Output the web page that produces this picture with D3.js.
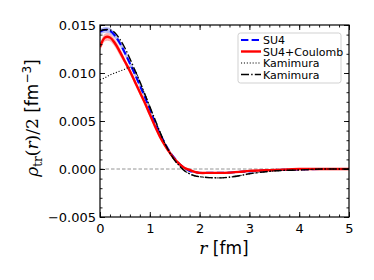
<!DOCTYPE html>
<html>
<head>
<meta charset="utf-8">
<script src="https://cdn.jsdelivr.net/npm/d3@7"></script>
<style>
  body { margin: 0; background: #fff; }
  svg { display: block; }
  text { font-family: "DejaVu Sans", sans-serif; }
</style>
</head>
<body>
<svg id="chart" width="374" height="280"></svg>
<script>
'use strict';
const rGrid = [0, 0.1, 0.2, 0.3, 0.4, 0.5, 0.6, 0.7, 0.8, 0.9, 1.0, 1.1, 1.2, 1.3, 1.4, 1.5, 1.6, 1.7, 1.8, 1.9, 2.0, 2.2, 2.5, 2.8, 3.0, 3.5, 4.0, 4.5, 5.0];

const su4 = [0.0143, 0.0145, 0.0144, 0.0139, 0.0131, 0.0121, 0.0110, 0.0099, 0.0087, 0.0075, 0.0062, 0.0049, 0.0037, 0.0027, 0.0018, 0.0011, 0.0005, 0.0001, -0.0002, -0.0003, -0.0004, -0.0004, -0.0004, -0.0003, -0.00025, -0.0001, -0.00005, 0, 0];
const su4Err = [0.0003, 0.0003, 0.0003, 0.0003, 0.0003, 0.0003, 0.0003, 0.0003, 0.0002, 0.0002, 0.0002, 0.0002, 0.0002, 0.0002, 0.00015, 0.00015, 0.0001, 0.0001, 0.0001, 0.0001, 0.0001, 0.0001, 0.0001, 0.0001, 0.00005, 0.00005, 0.00005, 0.00005, 0.00005];

const coul = [0.0127, 0.0137, 0.0137, 0.0131, 0.0122, 0.0112, 0.0102, 0.0091, 0.0080, 0.0069, 0.0057, 0.0045, 0.0034, 0.0025, 0.0017, 0.0010, 0.0005, 0.0001, -0.0001, -0.0003, -0.0004, -0.0004, -0.0004, -0.0003, -0.0002, -0.0001, 0, 0, 0];
const coulErr = [0.0004, 0.0004, 0.0004, 0.0004, 0.0004, 0.0003, 0.0003, 0.0003, 0.0003, 0.0003, 0.0003, 0.0002, 0.0002, 0.0002, 0.0002, 0.00015, 0.00015, 0.0001, 0.0001, 0.0001, 0.0001, 0.0001, 0.0001, 0.0001, 0.00005, 0.00005, 0.00005, 0.00005, 0.00005];

const kamDot = [0.0093, 0.0095, 0.0098, 0.0100, 0.0102, 0.0104, 0.0106, 0.0103, 0.0091, 0.0078, 0.0065, 0.0052, 0.0039, 0.0027, 0.0017, 0.0009, 0.0003, -0.0002, -0.0005, -0.0007, -0.0008, -0.0009, -0.0009, -0.0007, -0.0005, -0.0002, -0.0001, 0, 0];
const kamDash = [0.0144, 0.0145, 0.0145, 0.0142, 0.0135, 0.0126, 0.0115, 0.0103, 0.0091, 0.0078, 0.0065, 0.0052, 0.0039, 0.0027, 0.0017, 0.0009, 0.0003, -0.0002, -0.0005, -0.0007, -0.0008, -0.0009, -0.0009, -0.0007, -0.0005, -0.0002, -0.0001, 0, 0];

const xTicks = [0, 1, 2, 3, 4, 5];
const yTicks = [-0.005, 0, 0.005, 0.010, 0.015];
const legendNames = ["SU4", "SU4+Coulomb", "Kamimura", "Kamimura"];

const svg = d3.select("#chart");
const mLeft = 100, mRight = 349, mTop = 25, mBottom = 217;

const x = d3.scaleLinear().domain([0, 5]).range([mLeft, mRight]);
const y = d3.scaleLinear().domain([-0.005, 0.015]).range([mBottom, mTop]);

svg.append("clipPath").attr("id", "clip")
  .append("rect").attr("x", mLeft).attr("y", mTop)
  .attr("width", mRight - mLeft).attr("height", mBottom - mTop);

const plot = svg.append("g").attr("clip-path", "url(#clip)");

// zero reference line
plot.append("line")
  .attr("x1", mLeft).attr("x2", mRight)
  .attr("y1", y(0)).attr("y2", y(0))
  .attr("stroke", "#888").attr("stroke-width", 0.9)
  .attr("stroke-dasharray", "3.5,2");

const line = vals => d3.line()
  .x((d, i) => x(rGrid[i]))
  .y(d => y(d))
  .curve(d3.curveCatmullRom)(vals);

const band = (vals, err) => d3.area()
  .x((d, i) => x(rGrid[i]))
  .y0((d, i) => y(d - err[i]))
  .y1((d, i) => y(d + err[i]))
  .curve(d3.curveCatmullRom)(vals);

// line styles, shared by the curves and the legend
const styles = [
  { stroke: "#0000ff", width: 2.1, dash: "7.4,3.2" },
  { stroke: "#ff0000", width: 2.4, dash: null },
  { stroke: "#000", width: 1.1, dash: "1.1,1.8" },
  { stroke: "#000", width: 1.4, dash: "8,2.2,1.4,2.2" }
];
const drawLine = (vals, s) => plot.append("path").attr("d", line(vals))
  .attr("fill", "none").attr("stroke", s.stroke).attr("stroke-width", s.width)
  .attr("stroke-dasharray", s.dash);

plot.append("path").attr("d", band(su4, su4Err))
  .attr("fill", "#9aa0f0").attr("opacity", 0.7);
drawLine(su4, styles[0]);

plot.append("path").attr("d", band(coul, coulErr))
  .attr("fill", "#ff8080").attr("opacity", 0.6);
drawLine(coul, styles[1]);

drawLine(kamDot, styles[2]);
drawLine(kamDash, styles[3]);

// ticks on all four sides, pointing inward
const xMinor = d3.range(0, 5.001, 0.2);
const yMinor = d3.range(-0.005, 0.01501, 0.001);

svg.append("g").attr("transform", `translate(0,${mBottom})`)
  .call(d3.axisBottom(x).tickValues(xTicks).tickFormat(d3.format("d")).tickSizeInner(-5).tickSizeOuter(0).tickPadding(7));
svg.append("g").attr("transform", `translate(0,${mBottom})`)
  .call(d3.axisBottom(x).tickValues(xMinor).tickFormat("").tickSizeInner(-2.5).tickSizeOuter(0));
svg.append("g").attr("transform", `translate(0,${mTop})`)
  .call(d3.axisTop(x).tickValues(xTicks).tickFormat("").tickSizeInner(-5).tickSizeOuter(0));
svg.append("g").attr("transform", `translate(0,${mTop})`)
  .call(d3.axisTop(x).tickValues(xMinor).tickFormat("").tickSizeInner(-2.5).tickSizeOuter(0));

svg.append("g").attr("transform", `translate(${mLeft},0)`)
  .call(d3.axisLeft(y).tickValues(yTicks).tickFormat(d => d3.format(".3f")(d).replace("-", "\u2212")).tickSizeInner(-5).tickSizeOuter(0).tickPadding(4));
svg.append("g").attr("transform", `translate(${mLeft},0)`)
  .call(d3.axisLeft(y).tickValues(yMinor).tickFormat("").tickSizeInner(-2.5).tickSizeOuter(0));
svg.append("g").attr("transform", `translate(${mRight},0)`)
  .call(d3.axisRight(y).tickValues(yTicks).tickFormat("").tickSizeInner(-5).tickSizeOuter(0));
svg.append("g").attr("transform", `translate(${mRight},0)`)
  .call(d3.axisRight(y).tickValues(yMinor).tickFormat("").tickSizeInner(-2.5).tickSizeOuter(0));

svg.selectAll(".domain").remove();
svg.selectAll(".tick line").attr("stroke", "#000").attr("stroke-width", 0.9);
svg.selectAll(".tick text").attr("font-size", 13).attr("font-family", "DejaVu Sans").attr("fill", "#000");

svg.append("rect")
  .attr("x", mLeft).attr("y", mTop)
  .attr("width", mRight - mLeft).attr("height", mBottom - mTop)
  .attr("fill", "none").attr("stroke", "#000").attr("stroke-width", 1.2);

// legend
const lg = svg.append("g");
lg.append("rect")
  .attr("x", 238).attr("y", 33).attr("width", 103).attr("height", 50)
  .attr("rx", 2.5).attr("fill", "#fff").attr("fill-opacity", 0.8)
  .attr("stroke", "#ccc").attr("stroke-width", 0.9);
legendNames.forEach((name, i) => {
  const ly = 40 + i * 11.5;
  lg.append("line")
    .attr("x1", 241).attr("x2", 261).attr("y1", ly).attr("y2", ly)
    .attr("stroke", styles[i].stroke)
    .attr("stroke-width", styles[i].width)
    .attr("stroke-dasharray", styles[i].dash);
  lg.append("text")
    .attr("x", 263).attr("y", ly + 4)
    .attr("font-size", 11).text(name);
});

// axis labels
svg.append("text")
  .attr("x", 224).attr("y", 254)
  .attr("text-anchor", "middle").attr("font-size", 17)
  .html('<tspan font-family="DejaVu Serif" font-style="italic">r</tspan> [fm]');

svg.append("text")
  .attr("transform", "translate(38,118) rotate(-90)")
  .attr("text-anchor", "middle").attr("font-size", 17)
  .html('<tspan font-family="DejaVu Serif" font-style="italic">ρ</tspan>' +
        '<tspan font-family="DejaVu Serif" font-size="12" dy="4">tr</tspan>' +
        '<tspan font-family="DejaVu Serif" dy="-4">(</tspan>' +
        '<tspan font-family="DejaVu Serif" font-style="italic">r</tspan>' +
        '<tspan font-family="DejaVu Serif">)/2</tspan> [fm' +
        '<tspan font-size="12" dy="-7">\u22123</tspan><tspan dy="7">]</tspan>');
</script>
</body>
</html>
